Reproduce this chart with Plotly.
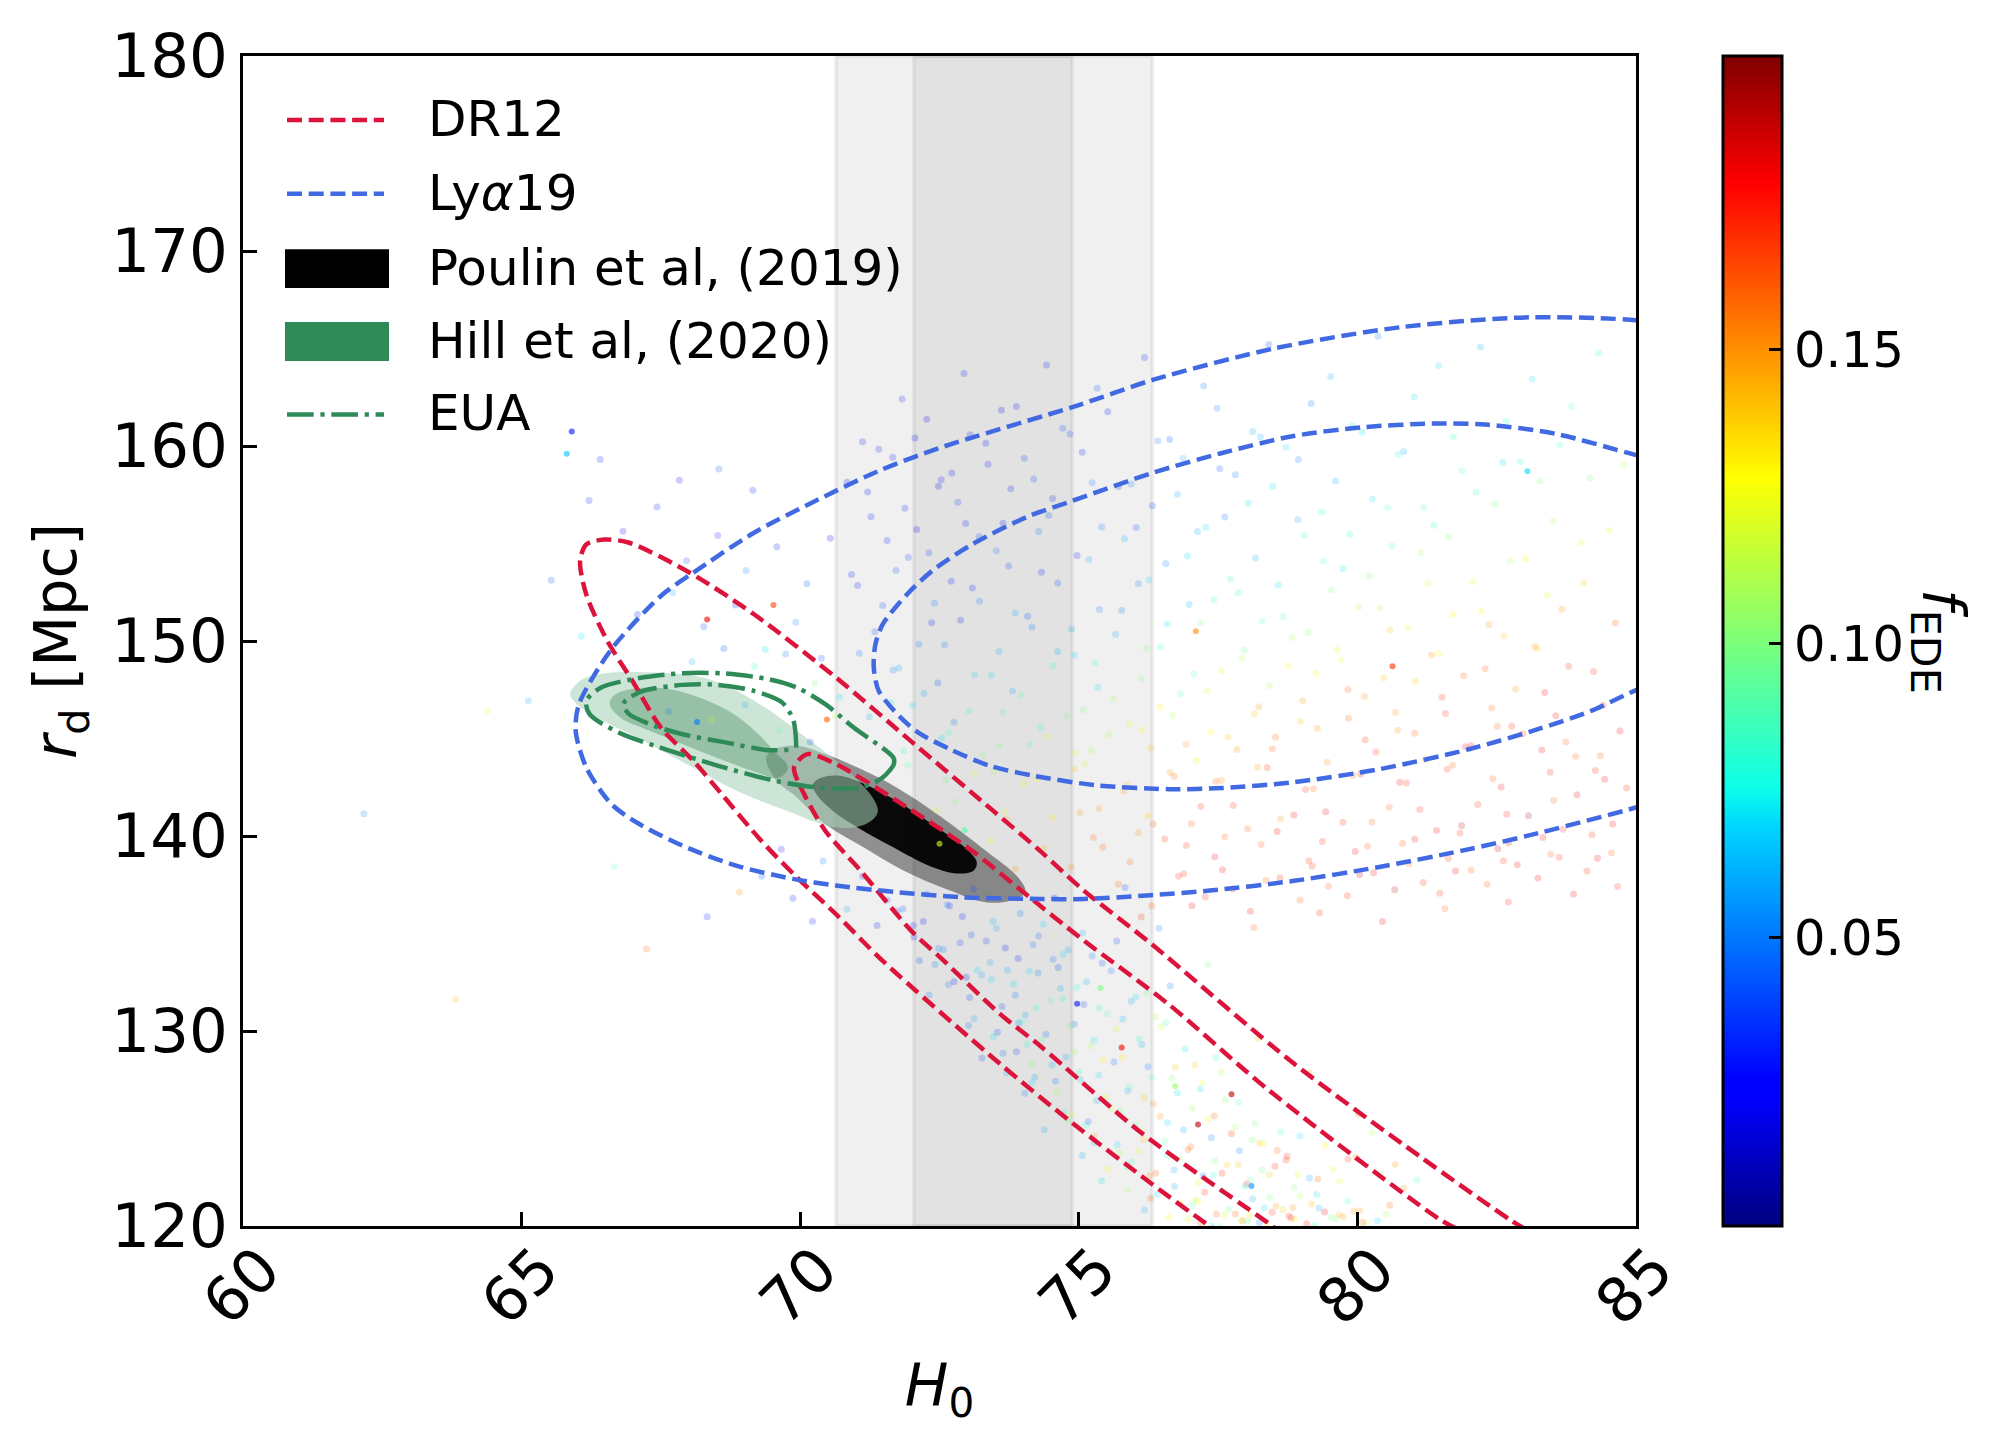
import plotly.graph_objects as go

# contours, (H0, rd) pairs as separate lists
dr12_outer_h0 = [77.6, 77.28, 76.3, 74.86, 73.58, 71.48, 70.64, 69.94, 69.3, 68.59, 68.08, 67.5, 66.99, 66.54, 66.16, 66.05, 66.16, 66.48, 66.93, 68.02, 69.17, 70.64, 72.05, 73.46, 74.3, 75.09, 76.3, 78.86, 81.13, 82.75, 83.1]
dr12_outer_rd = [119.5, 120.13, 122.18, 125.34, 128.33, 133.6, 136.0, 137.88, 139.76, 142.15, 143.86, 145.56, 147.95, 150.0, 152.39, 154.1, 154.95, 155.2, 155.04, 153.5, 151.37, 148.13, 144.71, 141.3, 139.25, 137.2, 134.47, 128.33, 123.55, 120.3, 119.7]
dr12_inner_h0 = [78.7, 78.41, 76.14, 74.33, 73.58, 72.57, 71.99, 71.09, 70.45, 70.07, 69.89, 70.13, 70.64, 71.73, 73.08, 73.97, 75.09, 76.6, 78.41, 81.5, 81.9]
dr12_inner_rd = [119.5, 120.13, 124.74, 129.18, 130.89, 133.62, 135.15, 138.2, 140.27, 142.15, 143.52, 144.2, 143.69, 141.81, 139.25, 137.2, 134.64, 131.4, 126.96, 120.3, 119.7]

lya_outer_h0 = [85.5, 85.0, 83.08, 81.88, 80.37, 78.86, 77.35, 76.22, 75.09, 74.3, 72.89, 71.73, 70.64, 69.87, 68.85, 67.89, 67.12, 66.61, 66.16, 65.97, 66.03, 66.61, 67.5, 68.08, 69.17, 70.2, 71.39, 72.5, 75.0, 76.34, 78.5, 80.8, 83.08, 85.0, 85.5]
lya_outer_rd = [141.9, 141.46, 140.03, 139.25, 138.4, 137.7, 137.2, 136.95, 136.77, 136.77, 136.86, 137.12, 137.46, 137.8, 138.48, 139.5, 140.6, 141.64, 143.52, 145.4, 146.76, 149.57, 152.31, 153.5, 155.55, 157.08, 158.7, 159.9, 162.1, 163.4, 165.0, 166.1, 166.6, 166.45, 166.2]
lya_inner_h0 = [85.5, 84.97, 84.18, 83.24, 82.0, 80.4, 78.83, 77.57, 76.63, 75.32, 74.17, 73.4, 72.69, 72.12, 71.8, 71.41, 71.32, 71.35, 71.48, 71.92, 72.37, 73.08, 74.1, 74.87, 76.32, 77.57, 78.83, 80.09, 81.35, 82.3, 83.55, 84.97, 85.5]
lya_inner_rd = [148.0, 147.44, 146.4, 145.48, 144.45, 143.43, 142.75, 142.46, 142.4, 142.6, 143.1, 143.6, 144.45, 145.3, 146.08, 147.44, 148.64, 149.83, 150.85, 152.4, 153.6, 154.95, 156.4, 157.17, 158.62, 159.64, 160.5, 160.96, 161.15, 161.1, 160.63, 159.56, 159.2]

eua_outer_h0 = [71.67, 71.68, 71.48, 71.09, 70.32, 69.55, 68.53, 67.57, 66.74, 66.22, 66.16, 66.42, 66.99, 67.89, 68.66, 69.43, 69.94, 70.45, 70.96, 71.67]
eua_outer_rd = [144.03, 143.69, 143.0, 142.49, 142.49, 142.83, 143.6, 144.46, 145.31, 146.25, 146.93, 147.6, 148.04, 148.35, 148.33, 148.04, 147.61, 146.76, 145.56, 144.03]
eua_inner_h0 = [69.93, 69.88, 69.68, 69.17, 68.53, 67.89, 67.18, 66.86, 66.83, 66.93, 67.38, 67.89, 68.66, 69.43, 69.88]
eua_inner_rd = [144.54, 145.91, 146.84, 147.44, 147.75, 147.75, 147.44, 146.93, 146.67, 146.25, 145.65, 145.22, 144.8, 144.4, 144.45]

# closed shapes start on a flat stretch so the spline has no kink at the join
hill_outer_h0 = [67.36, 68.26, 68.86, 69.46, 70.06, 70.71, 71.3, 71.39, 71.19, 70.65, 69.76, 68.86, 67.96, 67.07, 66.35, 65.99, 65.87, 66.05, 66.47, 67.36]
hill_outer_rd = [148.38, 148.13, 147.44, 146.42, 145.14, 143.7, 141.97, 141.2, 140.63, 140.43, 141.3, 142.32, 143.69, 145.05, 146.08, 146.76, 147.27, 147.96, 148.33, 148.38]
hill_inner_h0 = [67.66, 68.26, 68.86, 69.28, 69.58, 69.76, 69.77, 69.58, 69.22, 68.56, 67.96, 67.3, 66.77, 66.58, 66.65, 66.95, 67.66]
hill_inner_rd = [147.53, 147.02, 146.16, 145.14, 144.2, 143.69, 143.35, 142.97, 143.26, 143.95, 144.63, 145.4, 146.08, 146.76, 147.19, 147.53, 147.53]

poulin_outer_h0 = [71.09, 71.73, 72.5, 73.33, 73.91, 74.04, 73.78, 73.33, 72.69, 71.86, 71.09, 70.45, 69.94, 69.55, 69.39, 69.55, 69.94, 70.45, 71.09]
poulin_outer_rd = [143.43, 142.49, 141.04, 139.25, 137.88, 137.12, 136.69, 136.6, 137.2, 138.22, 139.5, 140.6, 141.98, 142.92, 144.03, 144.46, 144.63, 144.2, 143.43]
poulin_inner_h0 = [71.16, 71.73, 72.37, 72.95, 73.17, 73.11, 72.82, 72.31, 71.67, 71.03, 70.58, 70.29, 70.23, 70.39, 70.71, 71.16]
poulin_inner_rd = [142.66, 141.81, 140.6, 139.42, 138.65, 138.22, 138.08, 138.48, 139.42, 140.44, 141.3, 142.15, 142.66, 143.0, 143.09, 142.66]

# vertical bands on H0
band_outer = [70.64, 76.32]
band_inner = [72.04, 74.88]

# sampled points, upper cloud
upper_h0 = [71.83, 72.94, 73.61, 74.42, 75.33, 76.18, 77.24, 78.41, 79.52, 80.37, 81.46, 82.21, 83.14, 84.33,
            71.12, 72.27, 73.05, 73.88, 74.71, 75.52, 76.63, 77.48, 78.26, 79.17, 80.08, 81.02, 82.67, 83.84,
            70.84, 71.66, 72.48, 73.37, 74.19, 75.06, 75.94, 76.87, 77.81, 78.72, 79.61, 80.73, 81.88, 82.92, 84.17, 84.78,
            71.27, 72.09, 72.83, 73.64, 74.53, 75.41, 76.32, 77.13, 78.04, 78.93, 79.86, 80.54, 81.37, 82.46, 83.51, 84.52,
            70.92, 71.94, 72.71, 73.52, 74.33, 75.18, 76.07, 76.95, 77.72, 78.58, 79.39, 80.22, 81.14, 82.08, 83.02, 84.06,
            71.48, 72.36, 73.22, 74.08, 74.87, 75.77, 76.58, 77.42, 78.29, 79.11, 80.02, 80.91, 81.72, 82.63, 83.67, 84.63,
            71.06, 71.77, 72.59, 73.43, 74.62, 75.29, 76.21, 77.07, 77.93, 78.76, 79.64, 80.47, 81.33, 82.29, 83.18, 84.24,
            71.63, 72.22, 73.03, 73.96, 74.78, 75.62, 76.46, 77.31, 78.15, 79.02, 79.83, 80.68, 81.52, 82.41, 83.36, 84.41,
            72.67, 73.58, 74.44, 75.22, 76.13, 76.92, 77.68, 78.47, 79.28, 80.14, 81.03, 81.94, 82.77, 83.74, 84.71,
            73.12, 74.01, 74.93, 75.81, 76.71, 77.56, 78.38, 79.21, 80.06, 80.88, 81.71, 82.58, 83.46, 84.36,
            72.44, 73.71, 75.02, 76.34, 77.19, 78.03, 78.86, 79.74, 80.57, 81.42, 82.16, 83.07, 83.94, 84.83,
            75.43, 76.54, 77.44, 78.27, 79.13, 79.96, 80.81, 81.63, 82.52, 83.33, 84.21,
            73.86, 75.71, 76.88, 77.76, 78.61, 79.48, 80.29, 81.18, 82.04, 82.87, 83.62, 84.56,
            76.12, 77.03, 78.14, 79.32, 80.45, 81.57, 82.71, 83.88, 84.67]
upper_rd = [162.41, 163.72, 161.83, 164.15, 162.96, 164.54, 163.08, 165.21, 163.57, 165.63, 164.12, 165.08, 163.44, 164.76,
            160.22, 161.37, 160.58, 162.03, 160.91, 161.76, 160.33, 161.94, 160.47, 162.18, 160.72, 162.51, 161.28, 162.04,
            158.14, 159.42, 157.93, 159.07, 158.31, 159.68, 158.05, 159.37, 158.52, 159.94, 158.21, 159.56, 158.73, 159.21, 158.34, 159.02,
            156.37, 155.72, 157.12, 156.04, 157.31, 155.84, 156.93, 155.61, 157.08, 156.22, 155.47, 156.84, 155.93, 157.02, 156.14, 155.68,
            153.41, 154.28, 153.07, 154.63, 153.52, 154.17, 152.94, 154.36, 153.18, 152.87, 154.09, 153.33, 154.52, 153.04, 154.21, 152.98,
            151.82, 150.93, 152.04, 151.27, 150.62, 151.58, 150.87, 152.11, 151.02, 150.43, 151.74, 150.68, 151.37, 150.24, 151.63, 150.92,
            149.37, 148.62, 149.81, 148.24, 149.46, 148.87, 149.62, 148.31, 149.13, 148.72, 149.55, 148.12, 149.28, 148.58, 149.72, 148.43,
            146.83, 147.31, 146.41, 147.22, 146.18, 147.04, 146.62, 147.44, 146.27, 146.93, 147.51, 146.34, 147.12, 146.57, 147.36, 146.71,
            145.31, 144.62, 145.12, 144.37, 145.43, 144.71, 145.08, 144.48, 145.52, 144.93, 145.27, 144.58, 145.63, 144.82, 145.38,
            143.21, 142.68, 143.42, 142.31, 143.07, 142.84, 143.51, 142.42, 143.18, 142.72, 143.63, 142.51, 143.27, 144.12,
            141.32, 140.84, 141.21, 140.62, 141.53, 140.37, 141.08, 140.71, 141.47, 140.28, 141.62, 141.04, 142.11, 142.46,
            139.42, 139.84, 138.93, 139.57, 138.72, 139.21, 139.63, 138.84, 139.34, 139.92, 140.06,
            138.31, 137.52, 138.07, 137.28, 137.86, 137.42, 138.12, 137.61, 138.24, 138.52, 138.91, 139.14,
            135.84, 136.42, 135.31, 136.07, 135.62, 136.27, 136.61, 137.03, 137.41]
upper_f = [.03, .03, .02, .03, .04, .03, .05, .04, .06, .05, .07, .06, .07, .08,
           .03, .02, .03, .03, .04, .03, .04, .05, .06, .05, .07, .07, .08, .09,
           .02, .03, .02, .03, .04, .03, .05, .06, .05, .07, .06, .08, .09, .08, .1, .11,
           .03, .02, .04, .03, .03, .05, .04, .06, .07, .06, .08, .09, .08, .1, .11, .12,
           .03, .04, .03, .05, .03, .06, .05, .07, .08, .07, .09, .1, .11, .12, .13, .14,
           .04, .03, .05, .04, .06, .05, .07, .08, .09, .1, .11, .12, .13, .14, .15, .16,
           .05, .06, .05, .07, .06, .08, .1, .09, .11, .13, .12, .14, .15, .16, .15, .17,
           .07, .06, .08, .09, .1, .11, .13, .12, .14, .15, .16, .15, .17, .16, .18, .17,
           .09, .1, .12, .11, .13, .15, .14, .16, .15, .17, .16, .18, .17, .16, .18,
           .12, .13, .14, .15, .16, .15, .17, .16, .18, .17, .16, .18, .17, .16,
           .12, .14, .15, .16, .17, .16, .18, .17, .16, .18, .17, .19, .18, .17,
           .16, .17, .18, .16, .17, .18, .16, .17, .19, .18, .17,
           .15, .16, .17, .18, .17, .16, .18, .17, .16, .18, .17, .16,
           .17, .18, .16, .17, .18, .16, .17, .18, .17]

# denser part of the upper cloud
upper2_h0 = [71.41, 72.06, 72.72, 73.33, 74.02, 74.84, 75.71, 76.42, 77.53, 78.12, 78.94, 79.91, 80.83, 81.72, 82.61, 83.63,
             71.21, 71.88, 72.53, 73.21, 73.78, 74.46, 75.24, 76.03, 76.77, 77.62, 78.48, 79.36, 80.27, 81.19, 82.13, 83.28,
             71.56, 72.31, 72.97, 73.74, 74.28, 74.97, 75.82, 76.56, 77.28, 78.17, 79.05, 79.74, 80.62, 81.64, 82.74, 84.02,
             71.03, 71.72, 72.41, 73.09, 73.86, 74.62, 75.37, 76.26, 76.98, 77.86, 78.67, 79.53, 80.41, 81.27, 82.22, 83.41,
             71.34, 72.13, 72.88, 73.57, 74.16, 74.92, 75.66, 76.47, 77.18, 77.97, 78.83, 79.71, 80.58, 81.46, 82.36, 83.23,
             71.67, 72.47, 73.13, 73.81, 74.54, 75.34, 76.12, 76.83, 77.56, 78.42, 79.26, 80.13, 81.04, 81.91, 82.84, 83.79,
             71.24, 72.01, 72.76, 73.64, 74.31, 75.08, 75.91, 76.68, 77.37, 78.23, 78.98, 79.84, 80.72, 81.58, 82.51, 83.56,
             71.86, 72.54, 73.28, 74.12, 74.93, 75.54, 76.29, 77.11, 77.84, 78.53, 79.46, 80.33, 81.23, 82.04, 82.97, 83.92,
             71.93, 72.62, 73.47, 74.24, 75.11, 75.86, 76.64, 77.46, 78.21, 79.07, 79.92, 80.76, 81.61, 82.43, 83.31, 84.27,
             72.78, 73.67, 74.52, 75.36, 76.24, 77.02, 77.77, 78.62, 79.43, 80.26, 81.12, 81.87, 82.68, 83.52, 84.44,
             73.41, 74.37, 75.26, 76.07, 76.93, 77.62, 78.56, 79.37, 80.18, 81.03, 81.84, 82.71, 83.69, 84.58,
             74.86, 75.92, 76.79, 77.58, 78.36, 79.19, 80.04, 80.93, 81.76, 82.62, 83.47, 84.31,
             76.31, 77.27, 78.08, 78.97, 79.82, 80.67, 81.48, 82.33, 83.24, 84.12]
upper2_rd = [159.83, 160.41, 158.62, 160.14, 159.37, 160.62, 157.92, 160.27, 158.83, 160.74, 159.31, 161.03, 159.72, 160.48, 159.16, 160.07,
             157.64, 156.81, 158.27, 155.34, 157.81, 156.43, 158.12, 155.82, 157.53, 156.36, 157.94, 156.61, 157.28, 156.84, 157.63, 158.21,
             155.16, 154.52, 156.02, 153.84, 155.61, 154.38, 155.24, 153.97, 155.83, 154.26, 155.41, 153.72, 154.87, 155.36, 154.12, 155.07,
             152.84, 153.61, 151.93, 152.72, 151.44, 152.97, 151.62, 153.13, 151.87, 152.48, 151.26, 152.63, 151.71, 152.94, 151.52, 152.36,
             150.47, 149.83, 151.07, 149.46, 150.72, 149.27, 150.34, 149.71, 150.93, 149.52, 150.18, 149.03, 150.56, 149.36, 150.84, 149.62,
             148.51, 147.84, 148.27, 147.43, 148.73, 147.62, 148.06, 147.28, 148.47, 147.71, 148.34, 147.16, 147.93, 148.22, 147.54, 148.71,
             146.12, 146.71, 145.83, 146.36, 145.58, 146.47, 145.76, 146.21, 145.34, 146.63, 145.87, 146.04, 145.42, 146.28, 145.63, 146.17,
             144.37, 145.03, 144.14, 144.71, 144.26, 145.18, 144.52, 143.87, 144.43, 145.06, 143.78, 144.31, 143.92, 144.63, 145.24, 144.08,
             143.64, 142.87, 143.32, 142.93, 143.71, 142.64, 143.26, 142.81, 143.53, 142.38, 143.11, 142.76, 143.42, 142.94, 144.41, 143.36,
             141.76, 141.23, 140.93, 141.41, 141.02, 140.63, 141.57, 140.87, 141.24, 140.72, 141.36, 140.54, 141.12, 141.83, 142.91,
             139.76, 139.37, 139.92, 140.18, 139.51, 139.96, 140.23, 139.72, 139.48, 139.83, 140.16, 139.67, 140.34, 140.62,
             138.42, 138.67, 137.94, 138.27, 137.73, 138.46, 138.03, 138.58, 138.21, 138.73, 139.07, 138.86,
             136.42, 136.87, 136.14, 136.71, 136.93, 137.24, 137.06, 137.52, 137.84, 138.21]
upper2_f = [.03, .02, .03, .03, .04, .04, .03, .05, .04, .06, .05, .07, .06, .08, .07, .09,
            .02, .03, .03, .04, .03, .04, .05, .04, .06, .05, .07, .08, .07, .09, .08, .1,
            .03, .04, .03, .04, .05, .03, .06, .05, .07, .06, .08, .07, .09, .1, .11, .12,
            .03, .04, .05, .03, .06, .04, .05, .07, .06, .08, .09, .1, .11, .12, .13, .12,
            .04, .05, .03, .06, .05, .07, .06, .08, .1, .09, .11, .12, .14, .13, .15, .14,
            .05, .04, .07, .06, .08, .07, .1, .09, .12, .11, .13, .15, .14, .16, .15, .17,
            .06, .07, .05, .09, .08, .1, .12, .11, .13, .15, .14, .16, .15, .17, .16, .18,
            .08, .07, .1, .09, .12, .11, .14, .13, .15, .16, .15, .17, .16, .18, .17, .16,
            .09, .1, .11, .13, .12, .14, .15, .16, .15, .17, .16, .18, .17, .16, .18, .17,
            .1, .12, .13, .15, .14, .16, .17, .15, .18, .16, .17, .19, .17, .16, .18,
            .13, .14, .16, .15, .17, .16, .18, .17, .16, .18, .17, .19, .17, .18,
            .15, .16, .17, .18, .16, .17, .19, .16, .18, .17, .16, .18,
            .16, .17, .18, .16, .17, .19, .17, .16, .18, .17]

# sampled points, diagonal strip
strip_h0 = [71.12, 71.56, 72.03, 72.48, 72.91, 73.34, 73.72, 74.18, 74.63, 75.07,
            71.38, 71.84, 72.27, 72.68, 73.11, 73.52, 73.95, 74.36, 74.81, 75.24, 75.68,
            72.14, 72.57, 72.98, 73.41, 73.83, 74.27, 74.71, 75.14, 75.58, 76.02,
            72.31, 72.76, 73.18, 73.62, 74.04, 74.49, 74.92, 75.36, 75.79, 76.22, 76.64,
            73.02, 73.47, 73.88, 74.33, 74.77, 75.21, 75.63, 76.08, 76.47, 76.91,
            73.26, 73.71, 74.14, 74.58, 75.01, 75.44, 75.88, 76.31, 76.73, 77.18, 77.56,
            74.03, 74.46, 74.87, 75.32, 75.74, 76.17, 76.59, 77.04, 77.43, 77.87,
            74.38, 74.82, 75.27, 75.69, 76.12, 76.54, 76.96, 77.38, 77.81, 78.24, 78.62,
            75.06, 75.52, 75.94, 76.38, 76.81, 77.23, 77.66, 78.08, 78.52, 78.93,
            75.41, 75.87, 76.29, 76.72, 77.13, 77.57, 78.01, 78.42, 78.84, 79.27, 79.68,
            76.18, 76.62, 77.04, 77.47, 77.91, 78.33, 78.77, 79.18, 79.61, 80.04,
            76.74, 77.18, 77.61, 78.03, 78.47, 78.88, 79.31, 79.74, 80.16, 80.58,
            77.42, 77.86, 78.29, 78.72, 79.14, 79.56, 79.98, 80.41, 80.83,
            78.11, 78.56, 78.97, 79.42, 79.83, 80.26, 80.68, 81.07,
            74.56, 73.92, 75.83, 74.21, 76.44, 75.13, 77.32, 76.07, 78.21, 77.09, 79.13, 78.06, 80.02, 79.21]
strip_rd = [137.94, 136.72, 135.41, 134.23, 135.87, 134.61, 133.12, 134.42, 133.26, 135.03,
            135.41, 136.26, 137.02, 136.41, 137.28, 135.27, 136.03, 135.48, 134.17, 133.84, 134.62,
            133.62, 134.18, 132.76, 133.53, 132.41, 132.97, 131.68, 132.53, 133.09, 131.74,
            131.84, 132.53, 133.12, 131.26, 130.82, 131.57, 130.34, 131.18, 130.62, 131.94, 132.31,
            130.28, 129.71, 128.94, 129.52, 128.67, 129.23, 128.41, 129.62, 130.21, 129.08,
            128.62, 127.84, 128.31, 127.42, 127.91, 128.52, 126.94, 127.63, 128.14, 127.02, 127.88,
            126.81, 126.24, 125.72, 126.43, 125.91, 126.58, 125.31, 126.02, 125.64, 126.34,
            124.93, 125.41, 124.62, 124.18, 124.87, 124.34, 123.91, 124.52, 125.08, 124.26, 124.83,
            123.62, 122.94, 123.28, 122.71, 123.46, 122.58, 123.14, 122.36, 123.07, 122.64,
            122.31, 121.86, 121.42, 122.04, 121.23, 121.78, 122.16, 121.48, 120.94, 121.62, 122.28,
            120.82, 120.44, 121.07, 120.62, 120.28, 120.93, 120.51, 121.12, 120.37, 120.78,
            119.74, 120.16, 120.58, 120.23, 120.71, 120.34, 120.92, 120.48, 120.13, 121.06,
            122.61, 123.14, 122.87, 123.38, 122.46, 122.92, 123.51, 122.64, 121.94,
            124.41, 123.87, 124.62, 124.13, 123.42, 124.78, 123.16, 122.34,
            136.82, 130.41, 137.36, 127.63, 135.27, 125.18, 133.41, 123.87, 129.62, 121.36, 127.84, 120.54, 125.73, 119.93]
strip_f = [.03, .04, .03, .05, .03, .04, .06, .05, .04, .06,
           .03, .04, .05, .03, .04, .06, .05, .07, .06, .05, .04,
           .04, .05, .03, .06, .07, .05, .08, .06, .05, .07,
           .05, .03, .07, .04, .06, .09, .05, .08, .06, .1, .05,
           .05, .07, .04, .09, .06, .11, .05, .08, .12, .07,
           .04, .06, .1, .05, .08, .13, .06, .09, .14, .07, .11,
           .05, .09, .12, .06, .1, .14, .07, .11, .16, .09,
           .06, .1, .15, .07, .12, .09, .16, .05, .11, .14, .08,
           .06, .13, .08, .16, .1, .05, .14, .09, .17, .12,
           .07, .11, .16, .06, .13, .09, .17, .1, .15, .07, .12,
           .06, .13, .09, .16, .11, .07, .17, .14, .1, .15,
           .07, .16, .12, .09, .17, .13, .06, .15, .11, .16,
           .08, .14, .1, .17, .06, .12, .16, .09, .15,
           .1, .16, .07, .13, .17, .11, .15, .09,
           .03, .05, .04, .06, .05, .08, .1, .12, .14, .11, .15, .13, .16, .12]

# denser part of the strip
strip2_h0 = [71.74, 72.21, 72.64, 73.07, 73.46, 73.91, 74.28, 74.72,
             72.04, 72.42, 72.87, 73.26, 73.68, 74.11, 74.54, 74.97, 75.42,
             72.66, 73.04, 73.43, 73.86, 74.24, 74.67, 75.09, 75.51, 75.94, 76.38,
             73.12, 73.54, 73.97, 74.41, 74.84, 75.27, 75.68, 76.13, 76.56,
             73.64, 74.07, 74.52, 74.93, 75.36, 75.79, 76.24, 76.67, 77.08, 77.46,
             74.16, 74.61, 75.03, 75.48, 75.91, 76.34, 76.77, 77.22, 77.63,
             74.72, 75.17, 75.58, 76.02, 76.46, 76.88, 77.32, 77.74, 78.16,
             75.28, 75.73, 76.16, 76.59, 77.01, 77.44, 77.88, 78.31, 78.74,
             75.86, 76.27, 76.71, 77.14, 77.57, 77.98, 78.42, 78.86, 79.29,
             76.41, 76.83, 77.26, 77.69, 78.12, 78.54, 78.97, 79.41, 79.83,
             76.96, 77.38, 77.81, 78.24, 78.66, 79.09, 79.52, 79.94, 80.36,
             77.53, 77.94, 78.37, 78.81, 79.23, 79.67, 80.09, 80.52]
strip2_rd = [136.14, 135.62, 136.47, 134.92, 135.63, 133.72, 134.87, 133.94,
             134.82, 133.41, 134.53, 132.87, 134.26, 133.07, 133.68, 132.24, 133.47,
             132.37, 131.72, 132.64, 131.83, 131.19, 132.18, 131.36, 130.87, 131.52, 130.73,
             130.63, 129.94, 130.47, 129.83, 130.26, 129.52, 130.08, 129.31, 130.42,
             128.86, 129.31, 128.27, 128.92, 127.73, 128.66, 128.17, 127.58, 128.26, 128.63,
             127.34, 126.87, 127.51, 126.63, 127.18, 126.27, 126.82, 127.36, 126.47,
             125.82, 125.36, 126.04, 125.17, 125.63, 124.94, 125.48, 124.73, 125.26,
             124.27, 123.74, 124.43, 123.62, 124.07, 123.34, 123.86, 124.21, 123.58,
             123.02, 122.58, 122.87, 122.23, 122.71, 122.04, 122.63, 121.97, 122.41,
             121.62, 121.17, 121.73, 120.86, 121.38, 121.02, 121.54, 120.72, 121.27,
             120.34, 120.03, 120.62, 120.17, 120.84, 120.12, 120.46, 120.76, 120.27,
             119.96, 120.27, 120.08, 120.41, 120.02, 120.58, 120.19, 120.62]
strip2_f = [.04, .03, .05, .04, .06, .03, .05, .07,
            .03, .05, .04, .06, .03, .07, .05, .08, .04,
            .05, .04, .07, .05, .08, .06, .04, .09, .06, .11,
            .06, .04, .08, .05, .1, .07, .12, .06, .09,
            .05, .08, .06, .11, .07, .13, .05, .1, .14, .08,
            .07, .11, .06, .13, .09, .15, .07, .12, .1,
            .08, .05, .12, .09, .15, .06, .13, .17, .1,
            .06, .11, .14, .08, .16, .1, .05, .13, .17,
            .09, .15, .06, .12, .17, .08, .14, .1, .16,
            .07, .13, .17, .1, .06, .15, .11, .18, .09,
            .12, .08, .16, .05, .14, .18, .1, .15, .07,
            .09, .15, .12, .17, .08, .14, .16, .11]

# sampled points, left of the bands
left_h0 = [66.21, 66.82, 67.43, 67.96, 68.52, 69.03, 69.58, 70.12, 70.54, 67.08, 67.71, 68.27, 68.84, 69.37, 69.92, 70.38,
           68.06, 68.63, 69.18, 69.74, 70.26, 70.71, 67.64, 68.41, 69.01, 69.62, 70.18, 70.63, 65.53, 66.07, 64.38, 65.12,
           69.31, 69.87, 70.41, 70.22, 70.84, 69.66, 68.91, 68.33, 67.24, 66.66, 63.82, 62.17, 66.41, 67.83, 68.54, 69.15]
left_rd = [157.21, 155.63, 156.87, 154.12, 155.41, 153.62, 154.83, 152.94, 155.27, 151.36, 152.48, 150.73, 151.84, 149.57, 150.96, 149.12,
           148.94, 149.62, 148.71, 149.33, 147.84, 147.12, 146.38, 145.96, 146.72, 145.41, 144.82, 146.14, 153.12, 150.24, 146.41, 146.93,
           137.94, 136.81, 138.72, 135.63, 136.24, 139.32, 137.12, 135.86, 134.21, 138.42, 131.62, 141.14, 159.31, 158.24, 158.82, 157.73]
left_f = [.03, .02, .03, .04, .03, .05, .03, .04, .02, .03, .06, .04, .03, .07, .05, .04,
          .06, .04, .08, .05, .1, .07, .05, .12, .06, .09, .04, .11, .04, .07, .12, .06,
          .04, .03, .05, .03, .06, .02, .15, .03, .16, .09, .14, .05, .03, .02, .04, .03]

# the few dots that stand out
bright_h0 = [65.81, 65.9, 69.52, 68.33, 70.48, 68.15, 78.1, 76.73, 74.97, 75.39, 77.74, 77.14, 75.77, 83.05, 80.63, 77.1, 72.95, 72.5]
bright_rd = [159.6, 160.75, 151.85, 151.1, 145.97, 145.85, 122.05, 127.17, 131.4, 132.2, 126.76, 125.2, 129.15, 158.7, 148.7, 150.5, 140.3, 139.6]
bright_f = [.065, .03, .165, .18, .16, .05, .055, .105, .03, .1, .19, .19, .18, .07, .17, .15, .09, .12]

x_ticks = [60, 65, 70, 75, 80, 85]
y_ticks = [120, 130, 140, 150, 160, 170, 180]
cbar_ticks = [0.05, 0.10, 0.15]
cbar_labels = ["0.05", "0.10", "0.15"]
f_min, f_max = 0.001, 0.2

# matplotlib jet
jet = [[0, "#00007f"], [0.11, "#0000ff"], [0.125, "#0000ff"], [0.34, "#00d4ff"], [0.375, "#0dffea"],
       [0.5, "#7dff7a"], [0.64, "#ffff00"], [0.66, "#ffea00"], [0.89, "#ff0000"], [0.91, "#e80000"], [1, "#7f0000"]]

RED, BLUE, GREEN = "#dc143c", "#4169e1", "#2e8b57"
FONT = "DejaVu Sans"

# page offset of the plot div is 8 px
W, H = 1982, 1439
L, R, T, B = 243, 1636, 54, 1226


def px(x):
    return (x - L) / (R - L)


def py(y):
    return (B - y) / (B - T)


def filled(x, y, fill, name):
    return go.Scatter(x=x, y=y, mode="lines", fill="toself", fillcolor=fill, name=name,
                      line=dict(width=0, shape="spline", smoothing=1), hoverinfo="skip", showlegend=False)


def contour(x, y, color, dash, name):
    return go.Scatter(x=x, y=y, mode="lines", name=name, showlegend=False,
                      line=dict(color=color, width=4.5, dash=dash, shape="spline", smoothing=0.8))


def dots(x, y, c, size, opacity):
    return go.Scatter(x=x, y=y, mode="markers", showlegend=False, hoverinfo="skip",
                      marker=dict(size=size, color=c, colorscale=jet, cmin=f_min, cmax=f_max,
                                  opacity=opacity, line=dict(width=0)))


DASH = "15px,6.7px"
DASHDOT = "26.7px,6.7px,4.2px,6.7px"

fig = go.Figure()

fig.add_trace(filled(poulin_outer_h0, poulin_outer_rd, "rgba(0,0,0,0.4)", "Poulin et al, (2019)"))
fig.add_trace(filled(poulin_inner_h0, poulin_inner_rd, "rgba(0,0,0,0.94)", "Poulin et al, (2019)"))
fig.add_trace(filled(hill_outer_h0, hill_outer_rd, "rgba(167,210,184,0.57)", "Hill et al, (2020)"))
fig.add_trace(filled(hill_inner_h0, hill_inner_rd, "rgba(7,100,43,0.28)", "Hill et al, (2020)"))

fig.add_trace(dots(upper_h0 + upper2_h0 + strip_h0 + strip2_h0 + left_h0,
                   upper_rd + upper2_rd + strip_rd + strip2_rd + left_rd,
                   upper_f + upper2_f + strip_f + strip2_f + left_f, 7, 0.2))
fig.add_trace(dots(bright_h0, bright_rd, bright_f, 6, 0.6))

fig.add_trace(contour(dr12_outer_h0, dr12_outer_rd, RED, DASH, "DR12"))
fig.add_trace(contour(dr12_inner_h0, dr12_inner_rd, RED, DASH, "DR12"))
fig.add_trace(contour(lya_outer_h0, lya_outer_rd, BLUE, DASH, "Lyα19"))
fig.add_trace(contour(lya_inner_h0, lya_inner_rd, BLUE, DASH, "Lyα19"))
fig.add_trace(contour(eua_outer_h0, eua_outer_rd, GREEN, DASHDOT, "EUA"))
fig.add_trace(contour(eua_inner_h0, eua_inner_rd, GREEN, DASHDOT, "EUA"))

# colour bar lives on its own empty trace so the dot opacity does not touch it
fig.add_trace(go.Scatter(
    x=[None, None], y=[None, None], mode="markers", showlegend=False, hoverinfo="skip",
    marker=dict(
        color=[f_min, f_max], colorscale=jet, cmin=f_min, cmax=f_max, showscale=True,
        colorbar=dict(
            x=(1723 - L) / (R - L), xanchor="left", y=0, yanchor="bottom", len=1, lenmode="fraction",
            thickness=59, thicknessmode="pixels", xpad=0, ypad=0,
            outlinecolor="black", outlinewidth=3, borderwidth=0,
            tickvals=cbar_ticks, ticktext=cbar_labels, ticks="inside", ticklen=14, tickwidth=3,
            tickcolor="black", tickfont=dict(family=FONT, size=49.5, color="black"),
        ),
    ),
))

shapes = []
for band in (band_outer, band_inner):
    shapes.append(dict(type="rect", xref="x", yref="paper", x0=band[0], x1=band[1], y0=0, y1=1, layer="below",
                       fillcolor="rgba(128,128,128,0.12)", line=dict(color="rgba(128,128,128,0.12)", width=4)))

# legend by hand, plotly's own keys cannot draw the tall colour patches
legend_y = [117, 191, 266, 339, 412]
legend_text = ["DR12", "Ly<i>α</i>19", "Poulin et al, (2019)", "Hill et al, (2020)", "EUA"]
for yy, col, dash in ((118, RED, DASH), (192, BLUE, DASH), (413, GREEN, DASHDOT)):
    shapes.append(dict(type="line", xref="paper", yref="paper", x0=px(287), x1=px(384), y0=py(yy), y1=py(yy),
                       line=dict(color=col, width=4.5, dash=dash)))
for yy, col in ((267, "black"), (340, GREEN)):
    shapes.append(dict(type="rect", xref="paper", yref="paper", x0=px(285), x1=px(389), y0=py(yy - 19.5), y1=py(yy + 19.5),
                       fillcolor=col, line=dict(width=0)))

annotations = [dict(text=t, xref="paper", yref="paper", x=px(425.5), y=py(yy), xanchor="left", yanchor="middle",
                    showarrow=False, font=dict(family=FONT, size=50, color="black"))
               for t, yy in zip(legend_text, legend_y)]
annotations.append(dict(text="<i>f</i><sub>EDE</sub>", xref="paper", yref="paper", x=px(1940), y=py(640),
                        xanchor="center", yanchor="middle", textangle=90, showarrow=False,
                        font=dict(family=FONT, size=59, color="black")))

fig.update_layout(
    width=W, height=H, margin=dict(l=L - 8, r=W - (R - 8), t=T - 8, b=H - (B - 8)),
    paper_bgcolor="white", plot_bgcolor="white", font=dict(family=FONT, color="black"),
    showlegend=False, shapes=shapes, annotations=annotations,
    xaxis=dict(range=[60, 85], tickvals=x_ticks, ticks="inside", ticklen=14, tickwidth=3, tickcolor="black",
               tickangle=-45, ticklabelshift=19, ticklabelstandoff=-20, showgrid=False, zeroline=False,
               showline=True, mirror=True, linecolor="black", linewidth=3,
               tickfont=dict(family=FONT, size=61), title=dict(text="<i>H</i><sub>0</sub>", standoff=28, font=dict(family=FONT, size=58))),
    yaxis=dict(range=[120, 180], tickvals=y_ticks, ticks="inside", ticklen=14, tickwidth=3, tickcolor="black",
               ticklabelstandoff=0, showgrid=False, zeroline=False,
               showline=True, mirror=True, linecolor="black", linewidth=3,
               tickfont=dict(family=FONT, size=61), title=dict(text="<i>r</i><sub>d</sub> [Mpc]", standoff=16, font=dict(family=FONT, size=59))),
)

fig.write_html("out.html")
